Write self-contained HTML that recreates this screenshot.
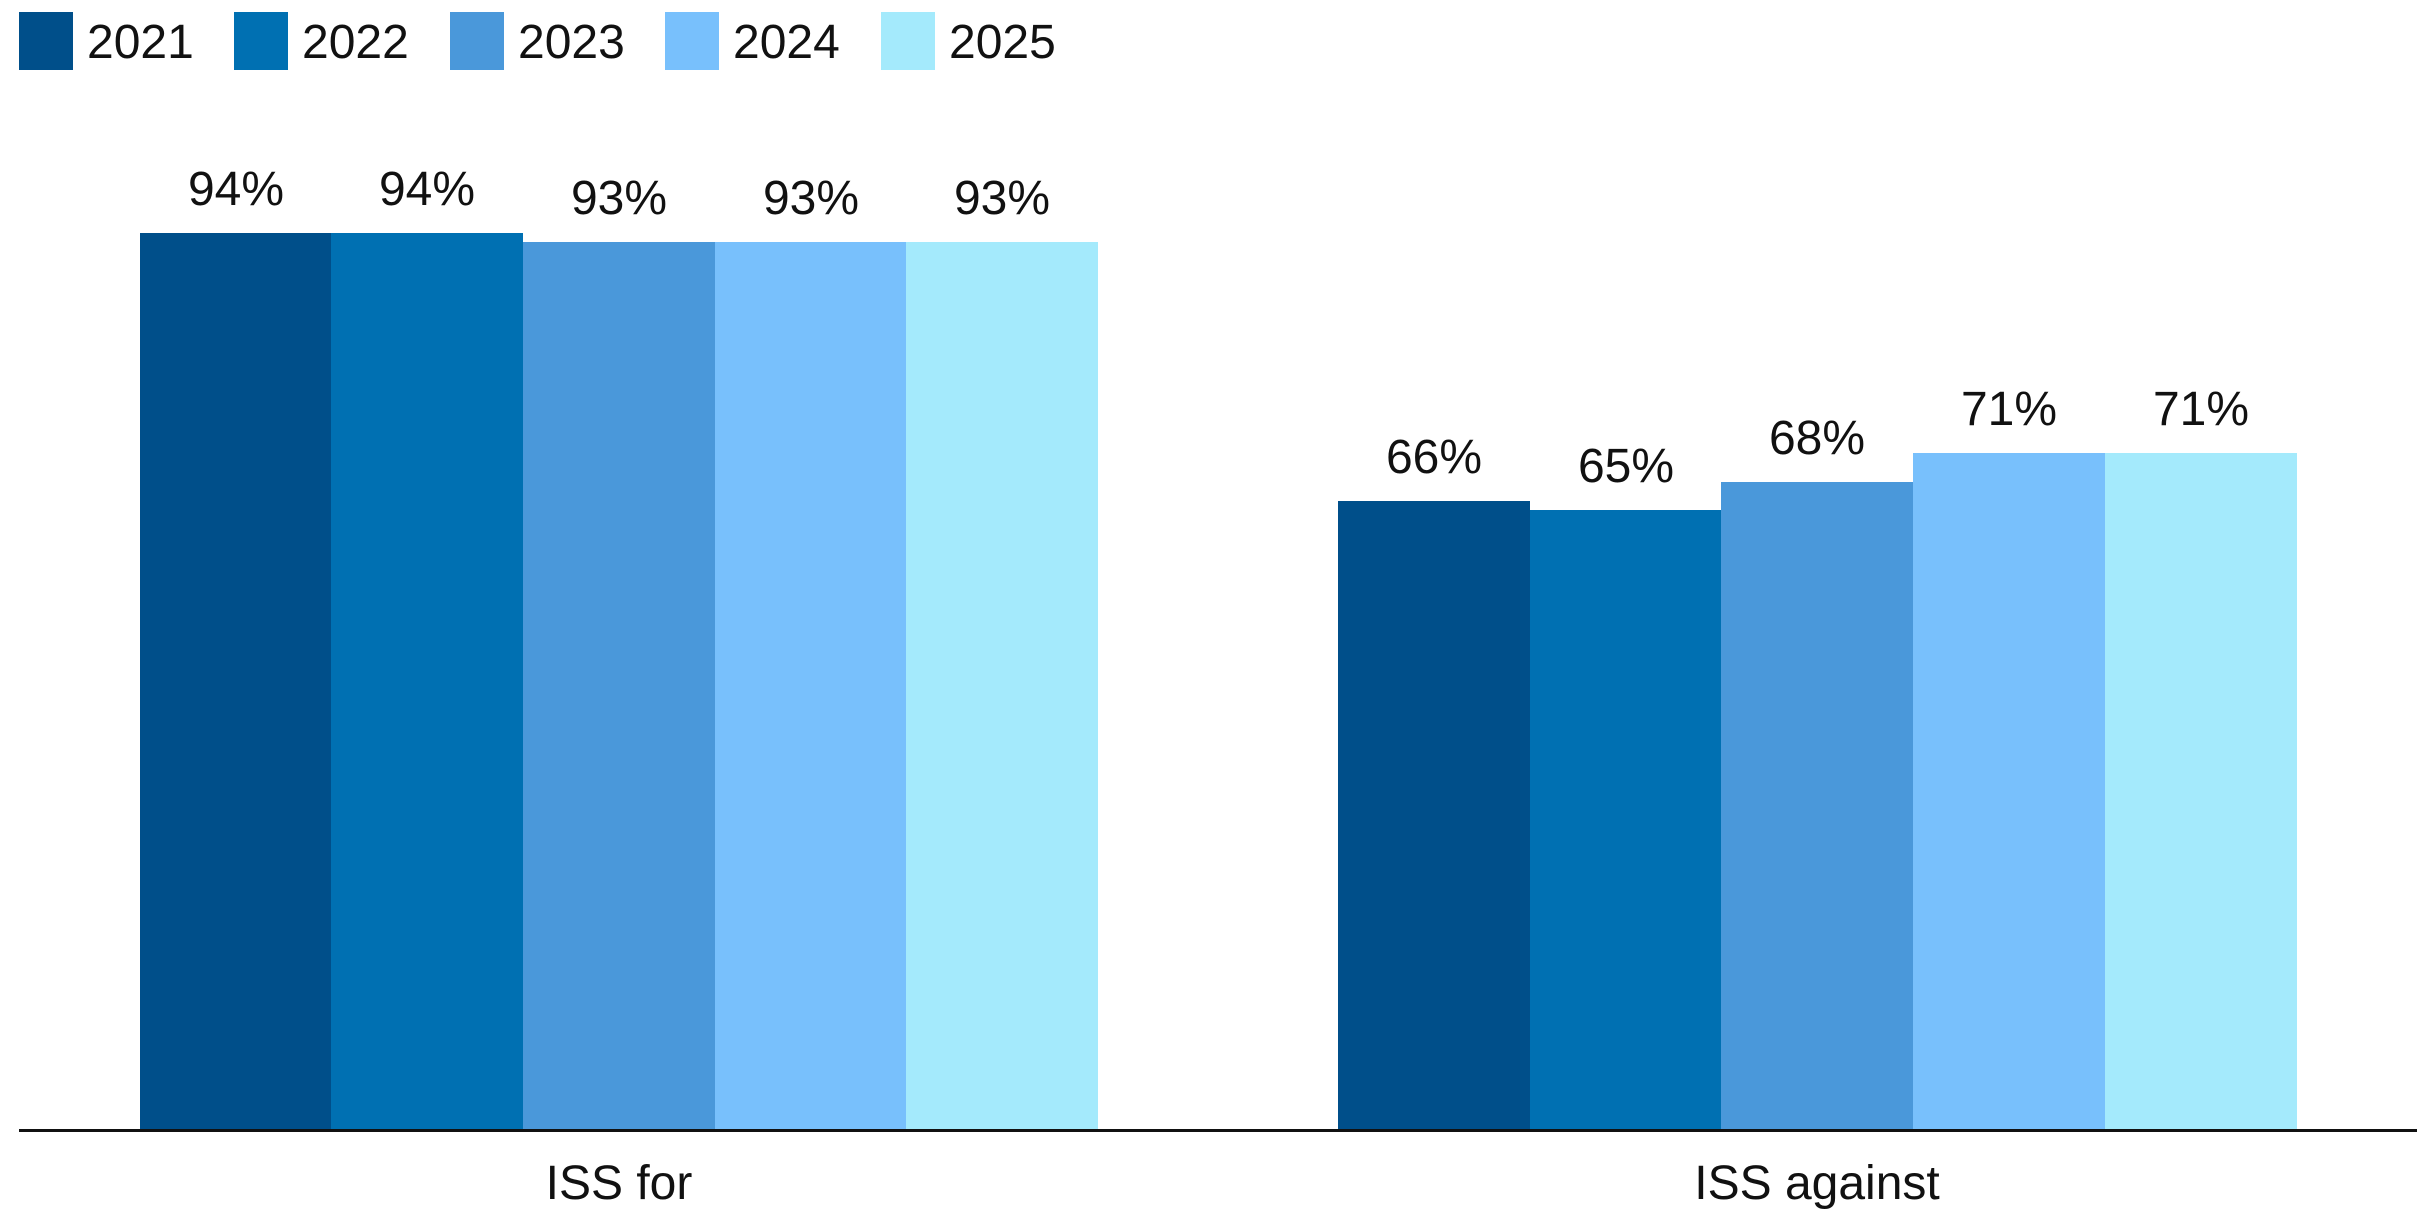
<!DOCTYPE html>
<html><head><meta charset="utf-8"><style>
html,body{margin:0;padding:0;background:#fff;}
svg{display:block;}
text{font-family:"Liberation Sans",sans-serif;font-size:48px;fill:#111;}
</style></head><body>
<svg width="2432" height="1216" viewBox="0 0 2432 1216" xmlns="http://www.w3.org/2000/svg">
<rect x="19" y="12" width="54" height="58" fill="#004f8a"/><text x="87" y="58">2021</text>
<rect x="234" y="12" width="54" height="58" fill="#0070b2"/><text x="302" y="58">2022</text>
<rect x="450" y="12" width="54" height="58" fill="#4a98da"/><text x="518" y="58">2023</text>
<rect x="665" y="12" width="54" height="58" fill="#78c0fc"/><text x="733" y="58">2024</text>
<rect x="881" y="12" width="54" height="58" fill="#a4eafc"/><text x="949" y="58">2025</text>
<rect x="140" y="233" width="192" height="898" fill="#004f8a"/>
<rect x="331" y="233" width="192" height="898" fill="#0070b2"/>
<rect x="523" y="242" width="192" height="889" fill="#4a98da"/>
<rect x="715" y="242" width="192" height="889" fill="#78c0fc"/>
<rect x="906" y="242" width="192" height="889" fill="#a4eafc"/>
<g text-anchor="middle">
<text x="236" y="205">94%</text>
<text x="427" y="205">94%</text>
<text x="619" y="214">93%</text>
<text x="811" y="214">93%</text>
<text x="1002" y="214">93%</text>
</g>
<rect x="1338" y="501" width="192" height="630" fill="#004f8a"/>
<rect x="1530" y="510" width="192" height="621" fill="#0070b2"/>
<rect x="1721" y="482" width="192" height="649" fill="#4a98da"/>
<rect x="1913" y="453" width="192" height="678" fill="#78c0fc"/>
<rect x="2105" y="453" width="192" height="678" fill="#a4eafc"/>
<g text-anchor="middle">
<text x="1434" y="473">66%</text>
<text x="1626" y="482">65%</text>
<text x="1817" y="454">68%</text>
<text x="2009" y="425">71%</text>
<text x="2201" y="425">71%</text>
</g>
<rect x="19" y="1129" width="2398" height="3" fill="#111"/>
<g text-anchor="middle">
<text x="619" y="1199">ISS for</text>
<text x="1817" y="1199">ISS against</text>
</g>
</svg>
</body></html>
